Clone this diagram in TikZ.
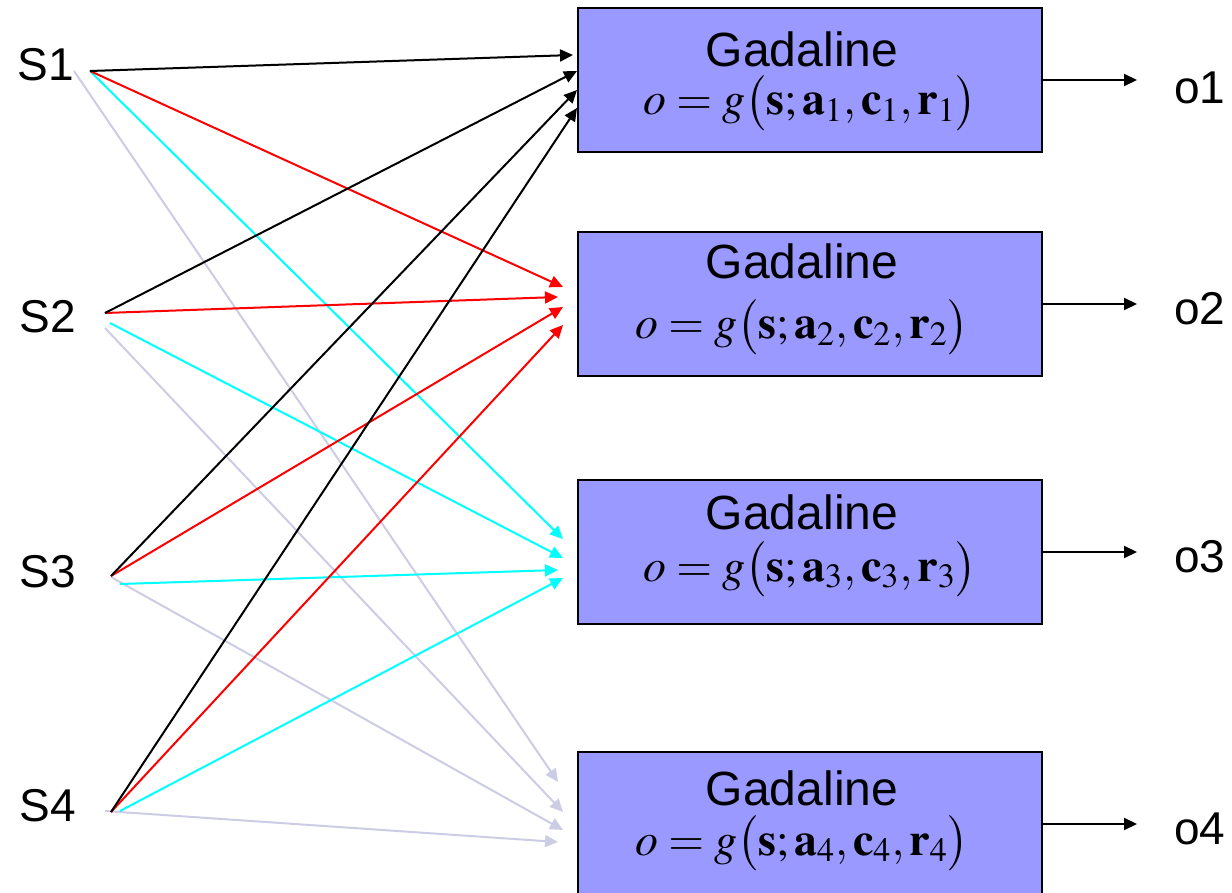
\documentclass[tikz,border=0pt]{standalone}
\usepackage{mathptmx}
\usepackage[no-math]{fontspec}
\setmainfont{Liberation Sans}
\definecolor{gfill}{HTML}{9999FF}
\definecolor{wred}{HTML}{FF0000}
\definecolor{wcyan}{HTML}{00FFFF}
\definecolor{wgray}{RGB}{204,204,228}
\usetikzlibrary{arrows.meta,positioning}
\tikzset{
  >={Triangle[length=6.5pt,width=6pt]},
  gbox/.style={draw=black,fill=gfill,line width=1pt,minimum width=232pt,minimum height=72pt,inner sep=0pt},
  lab/.style={font=\fontsize{23}{26}\selectfont,inner sep=0pt},
  gtitle/.style={font=\fontsize{24}{26}\selectfont,inner sep=0pt,anchor=base,text height=17pt,text depth=0pt},
  eq/.style={font=\fontsize{23}{26}\selectfont,inner sep=0pt,anchor=base,text height=16pt,text depth=4pt},
  arr/.style={->,draw=black,line width=1pt,shorten >=18.5pt},
  warr/.style={->,line width=1pt,draw=#1,fill=#1},
}
\newcommand{\gad}[1]{$o=g\bigl(\mathbf{s};\mathbf{a}_{#1},\mathbf{c}_{#1},\mathbf{r}_{#1}\bigr)$}

\begin{document}
\begin{tikzpicture}[x=0.5pt,y=-0.5pt]
\useasboundingbox (0,0) rectangle (1232,893);
% gadaline units
\node[gbox] (g1) at (810,80) {};
\node[gbox] (g2) at (810,304) {};
\node[gbox] (g3) at (810,552) {};
\node[gbox] (g4) at (810,824) {};
\node[gtitle] (n1) at (802,67) {Gadaline};  \node[eq] (f1) at (810,115) {\gad{1}};
\node[gtitle] (n2) at (802,279) {Gadaline}; \node[eq] (f2) at (802,339) {\gad{2}};
\node[gtitle] (n3) at (802,529) {Gadaline}; \node[eq] (f3) at (810,581) {\gad{3}};
\node[gtitle] (n4) at (802,805) {Gadaline}; \node[eq] (f4) at (802,855) {\gad{4}};
% inputs
\node[lab] (S1) at (46,65) {S1};
\node[lab] (S2) at (48,317) {S2};
\node[lab] (S3) at (48,572) {S3};
\node[lab] (S4) at (48,806) {S4};
\coordinate (a1) at (90,71);   \coordinate (b1) at (74,71);
\coordinate (a2) at (105,313); \coordinate (c2) at (110,323); \coordinate (b2) at (105,328);
\coordinate (a3) at (111,576); \coordinate (c3) at (120,584); \coordinate (b3) at (111,577);
\coordinate (a4) at (111,812); \coordinate (c4) at (120,811); \coordinate (b4) at (105,811);
% arrow tips at the units
\coordinate (t11) at (573,55);  \coordinate (t12) at (577,71);  \coordinate (t13) at (577,90);  \coordinate (t14) at (577,108);
\coordinate (t21) at (563,287); \coordinate (t22) at (558,297); \coordinate (t23) at (563,307); \coordinate (t24) at (563,325);
\coordinate (t31) at (563,539); \coordinate (t32) at (563,558); \coordinate (t33) at (558,570); \coordinate (t34) at (563,578);
\coordinate (t41) at (558,782); \coordinate (t42) at (563,812); \coordinate (t43) at (563,830); \coordinate (t44) at (558,842);
% weights
\draw[warr=wgray] (b1)--(t41); \draw[warr=wgray] (b2)--(t42); \draw[warr=wgray] (b3)--(t43); \draw[warr=wgray] (b4)--(t44);
\draw[warr=wcyan] (a1)--(t31); \draw[warr=wcyan] (c2)--(t32); \draw[warr=wcyan] (c3)--(t33); \draw[warr=wcyan] (c4)--(t34);
\draw[warr=wred] (a1)--(t21); \draw[warr=wred] (a2)--(t22); \draw[warr=wred] (a3)--(t23); \draw[warr=wred] (a4)--(t24);
\draw[warr=black] (a1)--(t11); \draw[warr=black] (a2)--(t12); \draw[warr=black] (a3)--(t13); \draw[warr=black] (a4)--(t14);
% outputs
\node[lab,anchor=west] (o1) at (1174,88) {o1};
\node[lab,anchor=west] (o2) at (1174,309) {o2};
\node[lab,anchor=west] (o3) at (1174,557) {o3};
\node[lab,anchor=west] (o4) at (1174,829) {o4};
\draw[arr] (g1.east) -- (g1.east -| o1.west);
\draw[arr] (g2.east) -- (g2.east -| o2.west);
\draw[arr] (g3.east) -- (g3.east -| o3.west);
\draw[arr] (g4.east) -- (g4.east -| o4.west);
\end{tikzpicture}
\end{document}
